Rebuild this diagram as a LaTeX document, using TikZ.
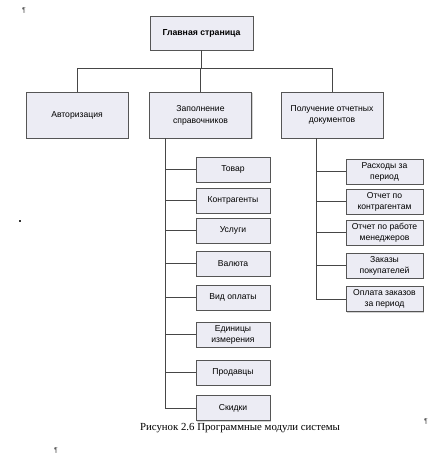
\documentclass[tikz,border=0pt]{standalone}
\usepackage{fontspec}
\setmainfont{Liberation Sans}
\newfontfamily\capfont{Liberation Serif}
\usetikzlibrary{shadows}
\definecolor{boxfill}{RGB}{236,236,244}
\definecolor{boxline}{RGB}{85,85,85}
\definecolor{wire}{RGB}{70,70,70}
\begin{document}
\begin{tikzpicture}[x=1pt,y=-1pt,
  modbox/.style={draw=boxline,line width=0.8pt,fill=boxfill,align=center,
    inner sep=1pt,font=\fontsize{8.6}{11}\selectfont,
    drop shadow={shadow xshift=1.2pt,shadow yshift=-1.2pt,fill=black!35}},
  topbox/.style={modbox,minimum width=103pt,minimum height=34pt,font=\bfseries\fontsize{8.7}{10}\selectfont},
  midbox/.style={modbox,minimum width=102pt,minimum height=46pt,font=\fontsize{8.6}{11.8}\selectfont},
  leafL/.style={modbox,minimum width=74pt,minimum height=25pt},
  leafR/.style={modbox,minimum width=77pt,minimum height=25pt},
  conn/.style={draw=wire,line width=0.8pt},
  pilcrow/.style={font=\fontsize{7}{8}\selectfont,text=black!70}]
\useasboundingbox[fill=white] (0,0) rectangle (440,460);

\node[topbox] (main) at (201.5,33) {Главная страница};
\node[midbox] (avt) at (77,115) {Авторизация};
\node[midbox] (zap) at (200.5,115) {Заполнение\\справочников};
\node[midbox] (pol) at (332,115) {Получение отчетных\\документов};

\node[leafL] (tov) at (233,169.5) {Товар};
\node[leafL] (kon) at (233,200.5) {Контрагенты};
\node[leafL] (usl) at (233,230.5) {Услуги};
\node[leafL] (val) at (233,263.5) {Валюта};
\node[leafL] (vid) at (233,297.5) {Вид оплаты};
\node[leafL] (edi) at (233,334.5) {Единицы\\измерения};
\node[leafL] (pro) at (233,372.5) {Продавцы};
\node[leafL] (ski) at (233,408) {Скидки};

\node[leafR] (ras) at (384.5,171.5) {Расходы за\\период};
\node[leafR] (okn) at (384.5,201.5) {Отчет по\\контрагентам};
\node[leafR] (orm) at (384.5,232.5) {Отчет по работе\\менеджеров};
\node[leafR] (zak) at (384.5,265.5) {Заказы\\покупателей};
\node[leafR] (opl) at (384.5,299) {Оплата заказов\\за период};

% top level connectors
\coordinate (hub) at ([yshift=-18pt]main.south);
\draw[conn] (main.south) -- (hub);
\draw[conn] (avt.north) |- (hub) -| (pol.north);
\draw[conn] (zap.north) -- (zap.north |- hub);

% left trunk
\coordinate (lt) at ([xshift=-35.5pt]zap.south);
\draw[conn] (lt) |- (ski.west);
\foreach \n in {tov,kon,usl,val,vid,edi,pro}
  \draw[conn] (\n.west) -- (\n.west -| lt);

% right trunk
\coordinate (rt) at ([xshift=-16pt]pol.south);
\draw[conn] (rt) |- (opl.west);
\foreach \n in {ras,okn,orm,zak}
  \draw[conn] (\n.west) -- (\n.west -| rt);

% caption and marks
\node[font=\capfont\fontsize{10.8}{12}\selectfont] (cap) at (240,428) {Рисунок 2.6 Программные модули системы};
\node[pilcrow] (p1) at (24,11) {¶};
\node[pilcrow] (p2) at (56,451) {¶};
\node[pilcrow] (p3) at (426,422) {¶};
\fill[black!80] (19,220) rectangle (21,222);
\end{tikzpicture}
\end{document}
